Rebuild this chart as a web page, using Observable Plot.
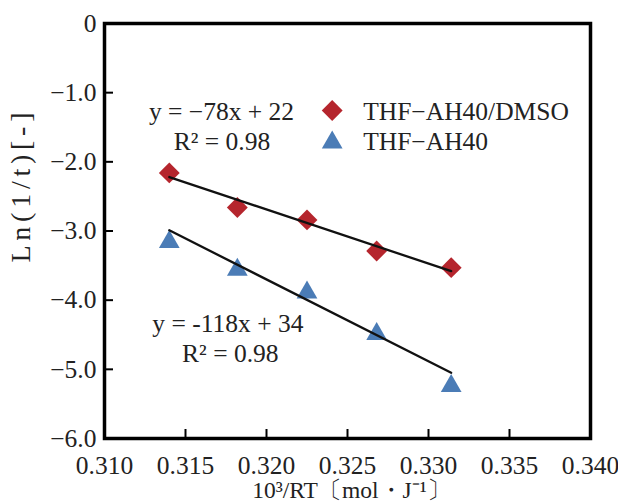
<!DOCTYPE html>
<html>
<head>
<meta charset="utf-8">
<script src="https://cdn.jsdelivr.net/npm/d3@7"></script>
<script src="https://cdn.jsdelivr.net/npm/@observablehq/plot@0.6"></script>
<style>
  html, body { margin: 0; padding: 0; background: #fff; }
  #chart svg { display: block; }
</style>
</head>
<body>
<div id="chart"></div>
<script>
// ---- data ----
const xValues = [0.3140, 0.3182, 0.3225, 0.3268, 0.3314];      // 10^3/RT
const yDmso   = [-2.16, -2.66, -2.84, -3.29, -3.53];            // THF−AH40/DMSO
const yAh40   = [-3.16, -3.56, -3.89, -4.49, -5.24];            // THF−AH40
const fitX    = [0.3140, 0.3314];                               // trendline ends
const fitDmso = [-2.22, -3.58];
const fitAh40 = [-2.99, -5.05];
const seriesNames = ["THF\u2212AH40/DMSO", "THF\u2212AH40"];
const seriesColors = ["#b5252d", "#4b7cb6"];
const seriesSymbols = ["diamond2", "triangle"];
const xTicks = [0.310, 0.315, 0.320, 0.325, 0.330, 0.335, 0.340];
const xTickLabels = ["0.310", "0.315", "0.320", "0.325", "0.330", "0.335", "0.340"];
const yTicks = [0, -1, -2, -3, -4, -5, -6];
const yTickLabels = ["0", "\u22121.0", "\u22122.0", "\u22123.0", "\u22124.0", "\u22125.0", "\u22126.0"];
const eqDmso = ["y = \u221278x + 22", "R\u00b2 = 0.98"];
const eqAh40 = ["y = -118x + 34", "R\u00b2 = 0.98"];
const xTitle = "10\u00b3/RT\u3014mol\u30fbJ\u207b\u00b9\u3015";
const yTitle = "Ln(1/t)[-]";

const pts = (ys) => xValues.map((x, i) => ({x, y: ys[i]}));
const fit = (ys) => fitX.map((x, i) => ({x, y: ys[i]}));

const W = 618, H = 504;
const mL = 104, mR = 28, mT = 23, mB = 66;
const fw = W - mL - mR, fh = H - mT - mB;
const tickLen = 9;

const legendDy = [87, 119];
const legendTextDy = [88.5, 118.5];

const marks = [
  // inner ticks
  Plot.ruleX(xTicks.slice(1, -1), {x: d => d, stroke: "#000", strokeWidth: 2, insetTop: fh - tickLen}),
  Plot.ruleY(yTicks.slice(1, -1), {y: d => d, stroke: "#000", strokeWidth: 2, insetRight: fw - tickLen}),
  // markers
  Plot.dot(pts(yDmso), {x: "x", y: "y", symbol: seriesSymbols[0], r: 9.4, fill: seriesColors[0]}),
  Plot.dot(pts(yAh40), {x: "x", y: "y", symbol: seriesSymbols[1], r: 7.7, fill: seriesColors[1]}),
  // trendlines
  Plot.line(fit(fitDmso), {x: "x", y: "y", stroke: "#111", strokeWidth: 2.3}),
  Plot.line(fit(fitAh40), {x: "x", y: "y", stroke: "#111", strokeWidth: 2.3}),
  // frame
  Plot.frame({stroke: "#000", strokeWidth: 3.5}),
  // tick labels
  Plot.text(xTicks, {x: d => d, text: (d, i) => xTickLabels[i], frameAnchor: "bottom", lineAnchor: "middle", dy: 27, fill: "#222"}),
  Plot.text(yTicks, {y: d => d, text: (d, i) => yTickLabels[i], frameAnchor: "left", textAnchor: "end", lineAnchor: "middle", dx: -8, fill: "#222"}),
  // axis titles
  Plot.text([xTitle], {text: d => d, frameAnchor: "bottom", lineAnchor: "middle", dx: 4, dy: 52, fontSize: 23.5, fill: "#222"}),
  Plot.text([yTitle], {text: d => d, frameAnchor: "left", lineAnchor: "middle", rotate: -90, dx: -83, dy: 31.5, fontSize: 28, fill: "#222"}),
  // equations
  Plot.text([eqDmso[0]], {text: d => d, frameAnchor: "top-left", textAnchor: "middle", lineAnchor: "middle", dx: 117, dy: 88.7, fill: "#222"}),
  Plot.text([eqDmso[1]], {text: d => d, frameAnchor: "top-left", textAnchor: "middle", lineAnchor: "middle", dx: 117.5, dy: 118.7, fill: "#222"}),
  Plot.text([eqAh40[0]], {text: d => d, frameAnchor: "top-left", textAnchor: "middle", lineAnchor: "middle", dx: 123.4, dy: 300, fill: "#222"}),
  Plot.text([eqAh40[1]], {text: d => d, frameAnchor: "top-left", textAnchor: "middle", lineAnchor: "middle", dx: 125.8, dy: 330, fill: "#222"})
];

// legend
seriesNames.forEach((name, i) => {
  marks.push(Plot.dot([name], {frameAnchor: "top-left", dx: 227.7, dy: legendDy[i], symbol: seriesSymbols[i], r: i === 0 ? 9.4 : 7.7, fill: seriesColors[i]}));
  marks.push(Plot.text([name], {text: d => d, frameAnchor: "top-left", textAnchor: "start", lineAnchor: "middle", dx: 258.7, dy: legendTextDy[i], fill: "#222"}));
});

const chart = Plot.plot({
  width: W, height: H,
  marginLeft: mL, marginRight: mR, marginTop: mT, marginBottom: mB,
  x: {domain: [0.310, 0.340], axis: null},
  y: {domain: [-6, 0], axis: null},
  style: {fontFamily: "'Liberation Serif', 'Times New Roman', serif", fontSize: "25.5px", background: "#fff", overflow: "visible"},
  marks
});
document.getElementById("chart").appendChild(chart);

// spread the y title to the reference's length
d3.select(chart).selectAll("text").filter(function () { return this.textContent === yTitle; })
  .attr("textLength", 150).attr("lengthAdjust", "spacing");
</script>
</body>
</html>
